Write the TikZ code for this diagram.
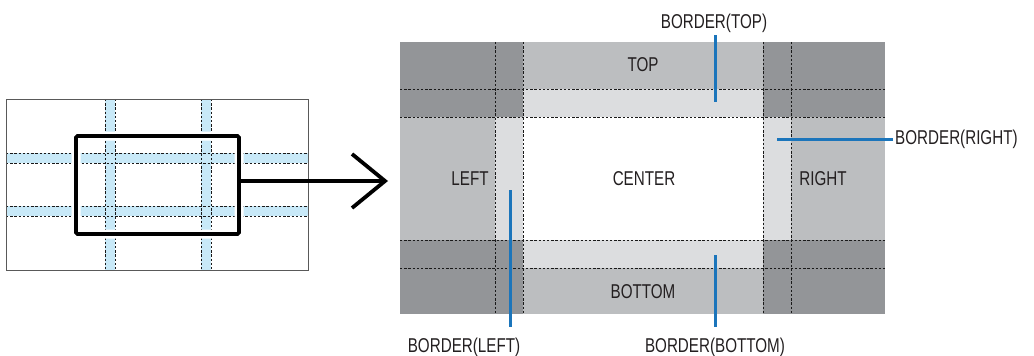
\documentclass[tikz,border=0pt]{standalone}
\usepackage{fontspec}
\newfontfamily\condfont{Liberation Sans}[FakeStretch=0.76]
\usepackage{xcolor}
\usepackage{tikz}
\usetikzlibrary{arrows.meta,positioning,calc}
\definecolor{darkzone}{HTML}{939598}
\definecolor{midzone}{HTML}{BCBEC0}
\definecolor{lightzone}{HTML}{DCDDDF}
\definecolor{stripblue}{HTML}{C8E9F8}
\definecolor{leadblue}{HTML}{1B75BB}
\definecolor{txtgray}{HTML}{231F20}

\begin{document}
\begin{tikzpicture}[x=1pt,y=-1pt,
  gridline/.style={black!90,line width=1pt,dash pattern=on 2.4pt off 1.8pt},
  lead/.style={leadblue,line width=3pt},
  lbl/.style={text=txtgray,inner sep=2pt,font=\condfont\fontsize{20}{22}\selectfont}]
\useasboundingbox (0,0) rectangle (1034,356);

% small screen with the split lines
\foreach \c in {110,206}
  \fill[stripblue] (\c-5,99) rectangle (\c+5,270);
\foreach \r in {158,211}
  \fill[stripblue] (6,\r-5) rectangle (308,\r+5);
\foreach \c in {110,206} {
  \draw[gridline,line width=0.9pt] (\c-5,99) -- (\c-5,270);
  \draw[gridline,line width=0.9pt] (\c+5,99) -- (\c+5,270);
}
\foreach \r in {158,211} {
  \draw[gridline,line width=0.9pt] (6,\r-5) -- (308,\r-5);
  \draw[gridline,line width=0.9pt] (6,\r+5) -- (308,\r+5);
}
\draw[black!65,line width=0.9pt] (6,99) rectangle (308,270);
\node[draw,line width=3.6pt,rounded corners=1.5pt,minimum width=163pt,minimum height=98pt,
      preaction={draw=white,line width=9pt}] (zoom) at (157.5,185) {};

% arrow to the enlarged view
\coordinate (arrTip) at (388,181);
\draw[line width=3.8pt,-{Straight Barb[length=33pt,width=54pt]}] (zoom.east |- arrTip) -- (arrTip);

% enlarged view: zones
\fill[midzone] (400,42) rectangle (885,314);
\fill[lightzone] (523,89) rectangle (763,268);
\fill[lightzone] (495,117) rectangle (791,240);
\fill[white] (523,117) rectangle (763,240);
\foreach \xa/\ya/\xb/\yb in {400/42/523/117, 763/42/885/117, 400/240/523/314, 763/240/885/314}
  \fill[darkzone] (\xa,\ya) rectangle (\xb,\yb);
\foreach \y in {89,117,240,268}
  \draw[gridline] (400,\y) -- (885,\y);
\foreach \x in {495,523,763,791}
  \draw[gridline] (\x,42) -- (\x,314);

\node[lbl] (top) at (643,65) {TOP};
\node[lbl] (center) at (644,179) {CENTER};
\node[lbl] (left) at (470,179) {LEFT};
\node[lbl] (right) at (823,179) {RIGHT};
\node[lbl] (bottom) at (643,292) {BOTTOM};

% border labels and leaders
\node[lbl,anchor=base] (bTop) at (714,28) {BORDER(TOP)};
\node[lbl,anchor=west] (bRight) at (893,139) {BORDER(RIGHT)};
\node[lbl,anchor=base] (bLeft) at (464,352) {BORDER(LEFT)};
\node[lbl,anchor=base] (bBottom) at (715,352) {BORDER(BOTTOM)};
\coordinate (tTop) at (715,102);
\coordinate (tRight) at (777,139);
\coordinate (tLeft) at (510,190);
\coordinate (tBottom) at (715,255);
\draw[lead] (tTop |- bTop.south) ++(0,1) -- (tTop);
\draw[lead] (bRight.west) -- (tRight);
\draw[lead] (tLeft) -- ($(tLeft |- bLeft.north)+(0,-8)$);
\draw[lead] (tBottom) -- ($(tBottom |- bBottom.north)+(0,-8)$);
\end{tikzpicture}
\end{document}
